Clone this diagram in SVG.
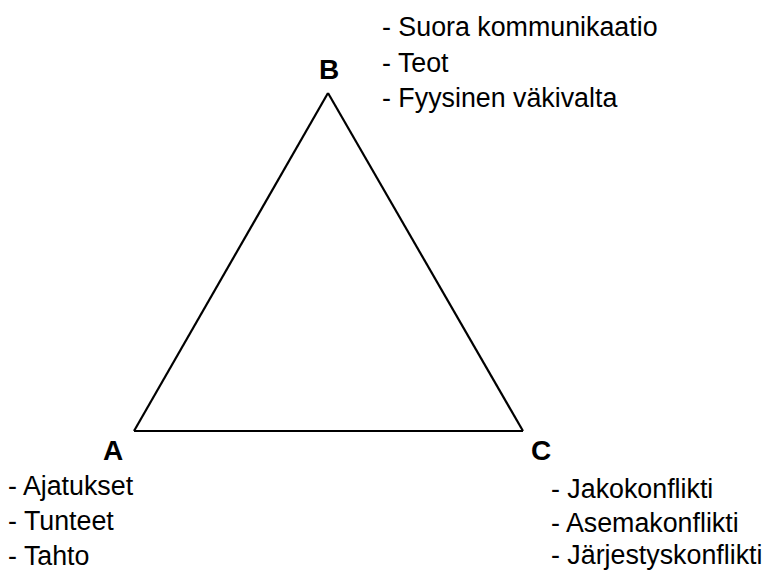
<svg xmlns="http://www.w3.org/2000/svg" width="763" height="572" viewBox="0 0 763 572">
<style>
.lbl{font-family:"Liberation Sans",Arial,sans-serif;font-size:28px;font-weight:bold;fill:#000}
.txt{font-family:"Liberation Sans",Arial,sans-serif;font-size:26.8px;fill:#000}
.edge{stroke:#000;stroke-width:2.2;fill:none}
</style>
<rect width="763" height="572" fill="#fff"/>
<g id="connectors">
<line class="edge" x1="134" y1="431" x2="328" y2="93"/>
<line class="edge" x1="328" y1="93" x2="523" y2="431"/>
<line class="edge" x1="134" y1="431" x2="523" y2="431"/>
</g>
<g id="nodeB">
<text class="lbl" x="319" y="79">B</text>
<text class="txt" x="382" y="36">- Suora kommunikaatio</text>
<text class="txt" x="382" y="72">- Teot</text>
<text class="txt" x="382" y="107">- Fyysinen väkivalta</text>
</g>
<g id="nodeA">
<text class="lbl" x="103" y="460">A</text>
<text class="txt" x="8" y="495">- Ajatukset</text>
<text class="txt" x="8" y="530">- Tunteet</text>
<text class="txt" x="8" y="565">- Tahto</text>
</g>
<g id="nodeC">
<text class="lbl" x="531" y="460">C</text>
<text class="txt" x="551" y="498">- Jakokonflikti</text>
<text class="txt" x="551" y="532">- Asemakonflikti</text>
<text class="txt" x="551" y="564">- Järjestyskonflikti</text>
</g>
</svg>
